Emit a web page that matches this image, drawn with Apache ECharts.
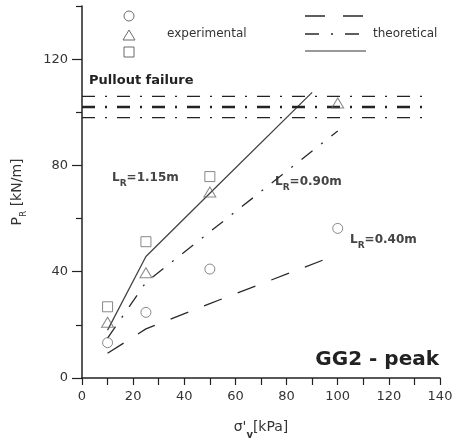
<!DOCTYPE html>
<html><head><meta charset="utf-8">
<script src="https://cdn.jsdelivr.net/npm/echarts@6/dist/echarts.min.js"></script>
<style>html,body{margin:0;padding:0;background:#fff}#c{width:453px;height:441px}</style>
</head><body><div id="c"></div>
<script>
// ---- data ----
const expX = [10, 25, 50, 100];
const expCircle = [13.3, 24.7, 41, 56.3];      // L_R = 0.40 m
const expTriangle = [21, 39.6, 70, 103.5];     // L_R = 0.90 m
const expSquareX = [10, 25, 50];
const expSquare = [26.8, 51.3, 75.8];          // L_R = 1.15 m

const theo040X = [10, 25, 50, 100];
const theo040 = [9.3, 18.5, 28, 46.5];
const theo090X = [10, 25, 50, 100];
const theo090 = [15, 36, 55, 93];
const theo115X = [10, 25, 50, 90];
const theo115 = [18, 45.7, 69.5, 107.5];

const pulloutLevels = [106, 102, 98];
const pulloutX = [0, 136];

const xTicks = [0, 20, 40, 60, 80, 100, 120, 140];
const yTicks = [0, 40, 80, 120];
const yMinorTicks = [20, 60, 100, 140];

const zip = (xs, ys) => xs.map((x, i) => [x, ys[i]]);
const FONT = 'DejaVu Sans';
const AX = '#222';

const chart = echarts.init(document.getElementById('c'), null, {renderer: 'canvas'});

const markerStyle = {color: 'transparent', borderColor: '#6a6a6a', borderWidth: 1};

const series = [
  {type: 'line', data: zip(theo040X, theo040), symbol: 'none', silent: true,
   lineStyle: {color: '#2a2a2a', width: 1.3, type: [19, 17]}},
  {type: 'line', data: zip(theo090X, theo090), symbol: 'none', silent: true,
   lineStyle: {color: '#2a2a2a', width: 1.3, type: [14, 11, 2, 11]}},
  {type: 'line', data: zip(theo115X, theo115), symbol: 'none', silent: true,
   lineStyle: {color: '#444', width: 1.3, type: 'solid'}},
];
pulloutLevels.forEach((lv, i) => {
  series.push({type: 'line', symbol: 'none', silent: true,
    data: zip(pulloutX, [lv, lv]),
    lineStyle: {color: '#222', width: i === 1 ? 2.4 : 1.4, type: [13, 10, 2, 10]}});
});
series.push(
  {type: 'scatter', data: zip(expX, expCircle), symbol: 'circle', symbolSize: 10, itemStyle: markerStyle, z: 5},
  {type: 'scatter', data: zip(expX, expTriangle), symbol: 'triangle', symbolSize: [12, 10], itemStyle: markerStyle, z: 5},
  {type: 'scatter', data: zip(expSquareX, expSquare), symbol: 'rect', symbolSize: 10, itemStyle: markerStyle, z: 5}
);

const lblRich = {
  b: {fontFamily: FONT, fontWeight: 'bold', fontSize: 12, fill: '#444'},
  s: {fontFamily: FONT, fontWeight: 'bold', fontSize: 9, fill: '#444', verticalAlign: 'bottom', padding: [0,0,-4,0]}
};
function rtext(x, y, txt) {
  return {type: 'text', left: x, top: y, style: {rich: lblRich, text: txt, fill: '#444', font: 'bold 12px ' + FONT}};
}

chart.setOption({
  animation: false,
  grid: {left: 82, right: 13, top: 6, bottom: 63, containLabel: false, outerBoundsMode: 'none'},
  xAxis: {
    type: 'value', min: 0, max: 140, interval: 10,
    axisLine: {lineStyle: {color: AX, width: 1.5}},
    axisTick: {length: 7, lineStyle: {color: AX, width: 1.2}},
    axisLabel: {customValues: xTicks, fontFamily: FONT, fontSize: 13, color: '#333', margin: 12},
    splitLine: {show: false},
    name: "σ'{v|v}[kPa]", nameLocation: 'middle', nameGap: 42,
    nameTextStyle: {fontFamily: FONT, fontSize: 14, color: '#333',
      rich: {v: {fontFamily: FONT, fontSize: 10, fontWeight: 'bold', color: '#333', verticalAlign: 'bottom', padding: [0,0,-6,0]}}}
  },
  yAxis: [{
    type: 'value', min: 0, max: 140, interval: 20,
    axisLine: {show: true, lineStyle: {color: AX, width: 1.5}},
    axisTick: {show: true, customValues: yTicks, length: 10, lineStyle: {color: AX, width: 1.2}},
    axisLabel: {customValues: yTicks, fontFamily: FONT, fontSize: 13, color: '#333', margin: 14},
    splitLine: {show: false},
    name: 'P{s|R} [kN/m]', nameLocation: 'middle', nameGap: 58,
    nameTextStyle: {fontFamily: FONT, fontSize: 14, color: '#333',
      rich: {s: {fontFamily: FONT, fontSize: 9, color: '#333', verticalAlign: 'bottom', padding: [0,0,-4,0]}}}
  }, {
    type: 'value', min: 0, max: 140, interval: 20, position: 'left',
    axisLine: {show: false},
    axisTick: {show: true, customValues: yMinorTicks, length: 6, lineStyle: {color: AX, width: 1.2}},
    axisLabel: {show: false}, splitLine: {show: false}
  }],
  series: series,
  graphic: [
    // legend: experimental
    {type: 'circle', shape: {cx: 129, cy: 16, r: 5}, style: {fill: 'none', stroke: '#6a6a6a', lineWidth: 1}},
    {type: 'polygon', shape: {points: [[129, 30], [135, 40], [123, 40]]}, style: {fill: 'none', stroke: '#6a6a6a', lineWidth: 1}},
    {type: 'rect', shape: {x: 124, y: 47, width: 10, height: 10}, style: {fill: 'none', stroke: '#6a6a6a', lineWidth: 1}},
    {type: 'text', left: 167, top: 28, style: {text: 'experimental', font: '12px ' + FONT, fill: '#333'}},
    // legend: theoretical
    {type: 'line', shape: {x1: 305, y1: 16, x2: 364, y2: 16}, style: {stroke: '#2a2a2a', lineWidth: 1.3, lineDash: [20, 18]}},
    {type: 'line', shape: {x1: 305, y1: 34, x2: 364, y2: 34}, style: {stroke: '#2a2a2a', lineWidth: 1.3, lineDash: [14, 12, 2, 12]}},
    {type: 'line', shape: {x1: 305, y1: 51, x2: 366, y2: 51}, style: {stroke: '#999', lineWidth: 2}},
    {type: 'text', left: 373, top: 28, style: {text: 'theoretical', font: '12px ' + FONT, fill: '#333'}},
    // annotations
    {type: 'text', left: 89, top: 74, style: {text: 'Pullout failure', font: 'bold 13px ' + FONT, fill: '#222'}},
    rtext(112, 172, '{b|L}{s|R}{b|=1.15m}'),
    rtext(275, 176, '{b|L}{s|R}{b|=0.90m}'),
    rtext(350, 234, '{b|L}{s|R}{b|=0.40m}'),
    {type: 'text', right: 14, top: 350, style: {text: 'GG2 - peak', font: 'bold 20px ' + FONT, fill: '#222'}}
  ]
});
</script></body></html>
